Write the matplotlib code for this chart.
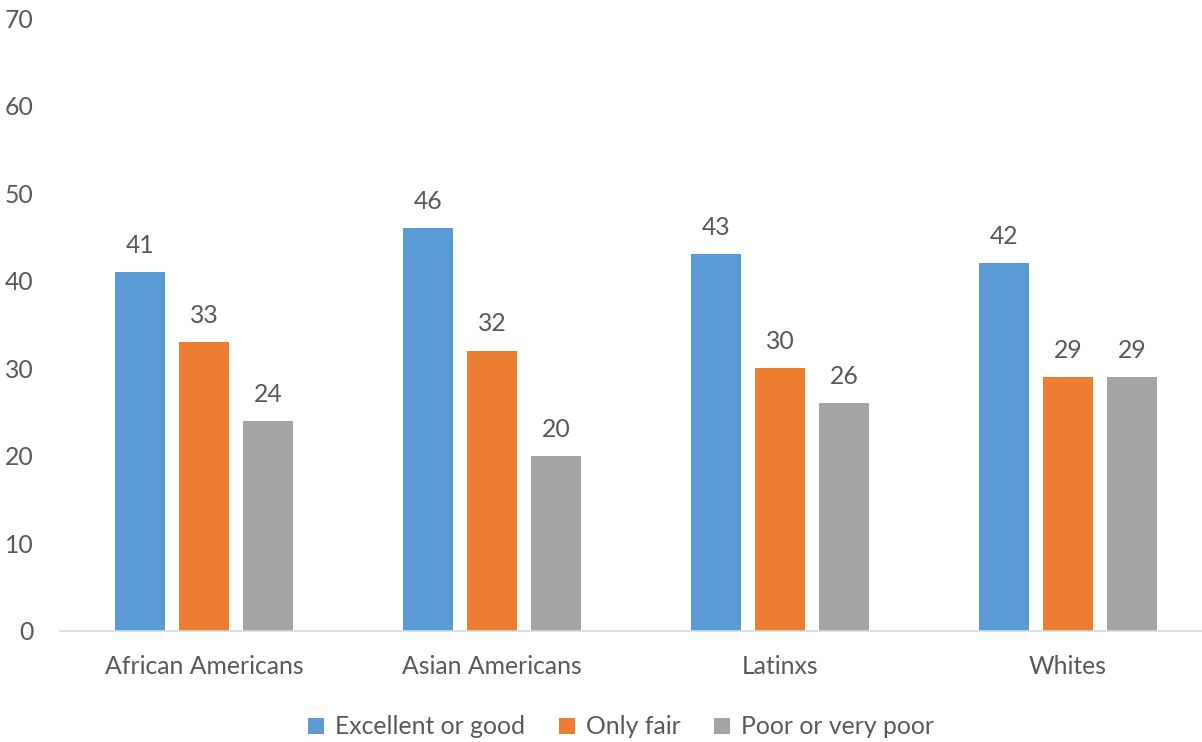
import matplotlib
matplotlib.use("Agg")
import matplotlib.pyplot as plt
import numpy as np

categories = ["African Americans", "Asian Americans", "Latinxs", "Whites"]
series_names = ["Excellent or good", "Only fair", "Poor or very poor"]
excellent = [41, 46, 43, 42]
fair = [33, 32, 30, 29]
poor = [24, 20, 26, 29]
colors = ["#5B9BD5", "#ED7D31", "#A5A5A5"]
yticks = [0, 10, 20, 30, 40, 50, 60, 70]

plt.rcParams['font.family'] = ['Lato', 'DejaVu Sans']
txt = "#595959"
fs = 17.8

fig = plt.figure(figsize=(12.02, 7.42), dpi=100)
W, H = 1202, 742
ax = fig.add_axes([60 / W, (H - 631) / H, 1152 / W, (631 - 18) / H])

x = np.arange(len(categories))
width = 50 / 288
step = 64 / 288
for i, (vals, name, c) in enumerate(zip([excellent, fair, poor], series_names, colors)):
    pos = x + (i - 1) * step
    bars = ax.bar(pos, vals, width, color=c, label=name, zorder=2)
    for b, v in zip(bars, vals):
        ax.annotate(str(v), (b.get_x() + b.get_width() / 2, v), xytext=(0, 11),
                    textcoords="offset points", ha="center", va="bottom",
                    color=txt, fontsize=fs)

ax.set_xlim(-0.5, 3.5)
ax.set_ylim(0, 70)
ax.set_yticks(yticks)
ax.set_xticks(x)
ax.set_xticklabels(categories)
ax.tick_params(axis="both", length=0, labelsize=fs, labelcolor=txt)
ax.tick_params(axis="y", pad=19)
ax.tick_params(axis="x", pad=17)
for s in ["top", "right", "left"]:
    ax.spines[s].set_visible(False)
ax.spines["bottom"].set_color("#D9D9D9")
ax.spines["bottom"].set_linewidth(1.2)
for lab in ax.get_yticklabels():
    lab.set_horizontalalignment("right")

leg = fig.legend(loc="center", bbox_to_anchor=(621 / W, (H - 727) / H), ncol=3,
                 frameon=False, fontsize=fs, labelcolor=txt, handlelength=0.65,
                 handleheight=0.65, handletextpad=0.45, columnspacing=1.35)

fig.savefig("out.png", dpi=100)
